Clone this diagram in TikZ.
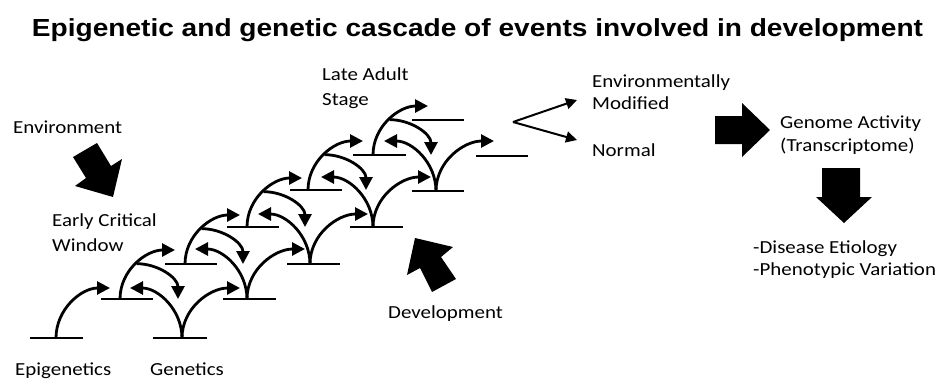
\documentclass[tikz,border=0pt]{standalone}
\usepackage{fontspec}
\setmainfont{Carlito}[FakeStretch=1.137]
\newfontfamily\titlefont{Liberation Sans}[FakeStretch=1.137]
\usetikzlibrary{arrows.meta,calc}
\begin{document}
\begin{tikzpicture}[x=1pt,y=1pt,
  lbl/.style={anchor=base west, inner sep=0pt, font=\fontsize{18.4}{22}\selectfont},
  barline/.style={line width=2.8pt},
  cas/.style={line width=2.8pt, -{Triangle[length=13pt,width=13pt]}},
  fork/.style={line width=2pt, -{Triangle[length=11pt,width=11pt]}},
  block/.style={fill=black, draw=none}]
\useasboundingbox (0,0) rectangle (943,-378);

% title
\node[anchor=base, inner sep=0pt, font=\titlefont\bfseries\fontsize{24.7}{28}\selectfont] (title) at (477.5,-36)
  {Epigenetic and genetic cascade of events involved in development};

% epigenetic bars
\foreach \n/\a/\b/\y in {0/30/83/338,1/101/153/299,2/165/217/264,3/227/279/227,4/290/342/190,5/353/406/155,6/412/464/120}{
  \coordinate (ea\n) at (\a,-\y);
  \coordinate (eb\n) at (\b,-\y);
  \draw[barline] (ea\n) -- (eb\n);
}
% genetic bars
\foreach \n/\a/\b/\y in {1/153/207/338,2/223/276/299,3/287/340/264,4/350/403/227,5/412/464/191,6/476/528/156}{
  \coordinate (ga\n) at (\a,-\y);
  \coordinate (gb\n) at (\b,-\y);
  \draw[barline] (ga\n) -- (gb\n);
}

% first epigenetic arc
\coordinate (s0) at (56,-338);
\coordinate (et0) at (110,-288);
\draw[cas] (s0) to[out=90,in=180] (et0);

% cascade stages
\foreach \i/\sx/\sy/\jx/\jy in {1/120/299/182/338,2/185/264/247/299,3/247/227/310/264,4/308/190/373/227,5/373/155/436/191}{
  \coordinate (s\i) at (\sx,-\sy);
  \coordinate (et\i) at (\sx+55,-\sy+49);
  \coordinate (dt\i) at (\sx+58,-\sy);
  \coordinate (j\i) at (\jx,-\jy);
  \coordinate (lt\i) at (\jx-52,-\jy+50);
  \coordinate (rt\i) at (\jx+58,-\jy+50);
  \draw[cas] (s\i) to[out=90,in=180] coordinate[pos=0.5] (m\i) (et\i);
  \draw[cas] (m\i) to[out=0,in=90] (dt\i);
  \draw[cas] (j\i) to[out=90,in=0] (lt\i);
  \draw[cas] (j\i) to[out=90,in=180] (rt\i);
}

% fork
\coordinate (fv) at (513,-122);
\coordinate (fu) at (577,-100);
\coordinate (fl) at (577,-140);
\draw[fork] (fv) -- (fu);
\draw[fork] (fv) -- (fl);

% block arrows
\fill[block] (97,-143) -- (111,-166) -- (122,-159) -- (113,-197) -- (75,-186) -- (86,-178) -- (73,-157) -- cycle;
\fill[block] (415,-238) -- (453,-247) -- (441,-257) -- (456,-279) -- (432,-292) -- (420,-268) -- (407,-275) -- cycle;
\fill[block] (715,-116) -- (742,-116) -- (742,-103) -- (770,-130) -- (742,-157) -- (742,-144) -- (715,-144) -- cycle;
\fill[block] (822,-168) -- (860,-168) -- (860,-197) -- (872,-197) -- (844,-223) -- (816,-197) -- (822,-197) -- cycle;

% labels
\node[lbl] (env) at (13,-133.5) {Environment};
\node[lbl] (ecw1) at (52,-226.6) {Early Critical};
\node[lbl] (ecw2) at (52,-251.6) {Window};
\node[lbl] (lat1) at (322,-80) {Late Adult};
\node[lbl] (lat2) at (322,-105) {Stage};
\node[lbl] (em1) at (592,-87) {Environmentally};
\node[lbl] (em2) at (592,-109) {Modified};
\node[lbl] (norm) at (592,-156) {Normal};
\node[lbl] (ga1) at (780,-128) {Genome Activity};
\node[lbl] (ga2) at (780,-151) {(Transcriptome)};
\node[lbl] (dis1) at (753,-253) {-Disease Etiology};
\node[lbl] (dis2) at (753,-275) {-Phenotypic Variation};
\node[lbl] (dev) at (388,-318) {Development};
\node[lbl] (epi) at (15,-375) {Epigenetics};
\node[lbl] (gen) at (150,-375) {Genetics};
\end{tikzpicture}
\end{document}
